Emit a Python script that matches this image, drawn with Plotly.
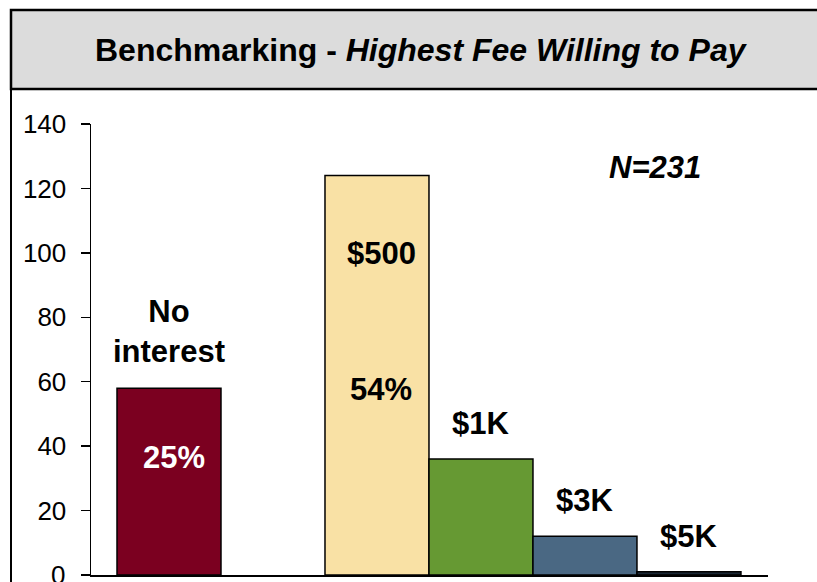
import plotly.graph_objects as go

# ---- data ----
categories = ["No interest", "", "$500", "$1K", "$3K", "$5K"]
counts = [58, None, 124, 36, 12, 1]
colors = ["#7B0020", "#FFFFFF", "#F9E1A5", "#669933", "#4A6883", "#1A2633"]
pct_labels = ["25%", "", "54%", "", "", ""]
n_total = 231
y_ticks = [0, 20, 40, 60, 80, 100, 120, 140]

W, H = 817, 582
ML, MR, MT, MB = 91, 49, 124, 7
PW, PH = W - ML - MR, H - MT - MB

def px(x):  # window pixel -> paper
    return (x - ML) / PW

def py(y):
    return (H - MB - y) / PH

FONT = "Liberation Sans, Arial, sans-serif"
TICK_FONT = dict(family=FONT, size=26, color="black")

x_idx = list(range(len(categories)))
fig = go.Figure()
fig.add_trace(go.Bar(
    x=x_idx, y=counts, width=1.0,
    marker=dict(color=colors, line=dict(color="black", width=1.5)),
    hoverinfo="skip",
))

ann = []
LS = 31
lab_font = dict(family=FONT, size=LS, color="black")
C = dict(showarrow=False, xanchor="center", yanchor="middle")
for i, c in enumerate(categories):
    if c == "" or counts[i] is None:
        continue
    if i == 0:
        ann.append(dict(x=i, y=counts[i] + 17.5, text="<b>No<br>interest</b>",
                        font=lab_font, xref="x", yref="y", **C))
    elif i == 2:
        ann.append(dict(x=i + 0.04, y=99.7, text="<b>" + c + "</b>",
                        font=lab_font, xref="x", yref="y", **C))
    else:
        ann.append(dict(x=i, y=counts[i] + 11, text="<b>" + c + "</b>",
                        font=lab_font, xref="x", yref="y", **C))
ann.append(dict(x=0.05, y=36.6, text="<b>" + pct_labels[0] + "</b>",
                font=dict(family=FONT, size=LS, color="white"), xref="x", yref="y", **C))
ann.append(dict(x=2.04, y=57.5, text="<b>" + pct_labels[2] + "</b>",
                font=lab_font, xref="x", yref="y", **C))
ann.append(dict(x=px(655), y=py(167), xref="paper", yref="paper",
                text="<b><i>N=%d</i></b>" % n_total, font=lab_font, **C))
ann.append(dict(x=px(421), y=py(50), xref="paper", yref="paper",
                text="<b>Benchmarking - <i>Highest Fee Willing to Pay</i></b>",
                font=dict(family=FONT, size=32, color="black"), **C))
# bottom tick label (would otherwise be dropped at the figure edge)
ann.append(dict(x=px(67), y=y_ticks[0], xref="paper", yref="y", text=str(y_ticks[0]),
                showarrow=False, xanchor="right", yanchor="middle", font=TICK_FONT))

shapes = [
    dict(type="rect", xref="paper", yref="paper", x0=px(11), x1=px(900), y0=py(700), y1=py(10),
         line=dict(color="black", width=2), fillcolor="rgba(0,0,0,0)", layer="below"),
    dict(type="rect", xref="paper", yref="paper", x0=px(11), x1=px(900), y0=py(89), y1=py(10),
         line=dict(color="black", width=2.5), fillcolor="#DCDCDC", layer="below"),
]

fig.update_layout(
    width=W, height=H,
    margin=dict(l=ML, r=MR, t=MT, b=MB, autoexpand=False),
    paper_bgcolor="white", plot_bgcolor="white",
    showlegend=False, bargap=0,
    annotations=ann, shapes=shapes,
    xaxis=dict(range=[-0.75, 5.76], showticklabels=False, ticks="", showgrid=False,
               zeroline=False, showline=True, linecolor="black", linewidth=1.5, fixedrange=True),
    yaxis=dict(range=[0, 140], tickvals=y_ticks,
               ticktext=[str(v) if v != y_ticks[0] else "" for v in y_ticks],
               ticks="outside", ticklen=9, tickwidth=1.5,
               tickcolor="black", showline=True, linecolor="black", linewidth=1.5,
               showgrid=False, zeroline=False, ticklabelstandoff=9, automargin=False,
               tickfont=TICK_FONT, fixedrange=True),
)

fig.write_html(
    "out.html",
    config={"displayModeBar": False, "staticPlot": True},
    post_script=(
        "document.body.style.margin='0';"
        "document.body.style.overflow='hidden';"
        "document.documentElement.style.overflow='hidden';"
    ),
)
